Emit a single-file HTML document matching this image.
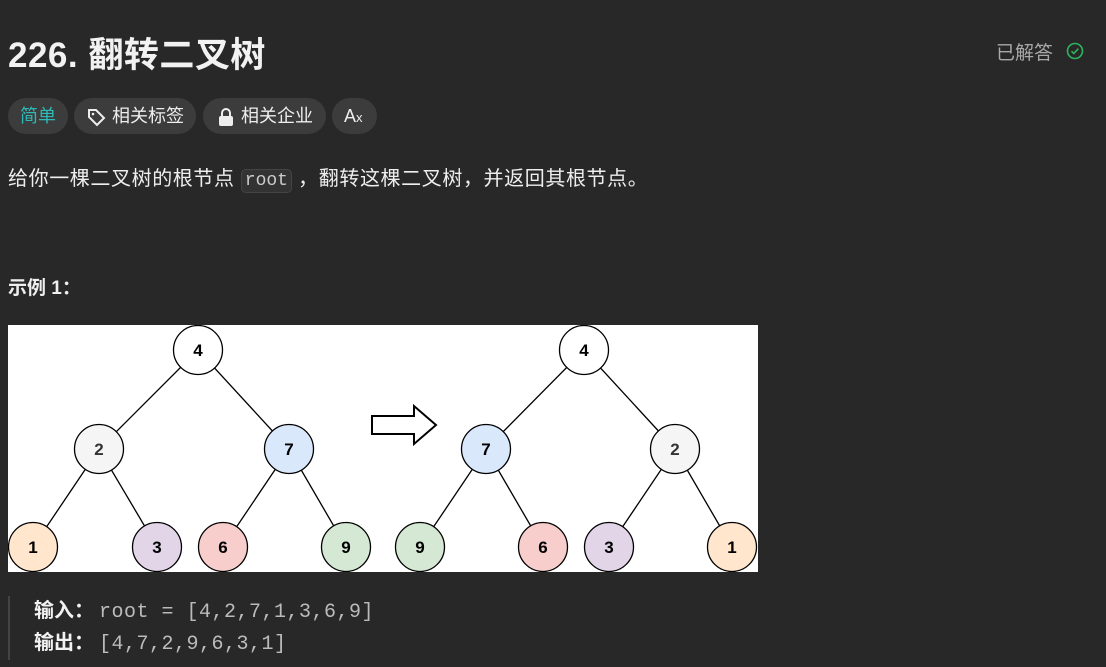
<!DOCTYPE html>
<html><head><meta charset="utf-8"><style>
body{margin:0;width:1106px;height:667px;background:#282828;font-family:"Liberation Sans","Noto Sans CJK SC",sans-serif;color:#eee;overflow:hidden;position:relative}
.a{position:absolute}
.tag{position:absolute;top:98px;height:36px;border-radius:18px;background:#3c3c3c;font-size:18px;line-height:36px;color:#eee;box-sizing:border-box;padding:0 12px}
.mono{font-family:"Liberation Mono",monospace}
</style></head><body>
<div class="a" style="left:8px;top:27px;font-size:35px;font-weight:bold;color:#f2f2f2;letter-spacing:0.5px">226. 翻转二叉树</div>
<div class="a" style="left:996px;top:38px;font-size:19px;color:#a8a8a8">已解答</div>
<svg class="a" style="left:1066px;top:42px" width="18" height="18" viewBox="0 0 18 18"><circle cx="9" cy="9" r="7.5" fill="none" stroke="#2db55d" stroke-width="1.6"/><path d="M5.5 9.2l2.3 2.3 4.5-4.8" fill="none" stroke="#2db55d" stroke-width="1.6"/></svg>
<div class="tag" style="left:8px;width:60px;color:#2cbbb8">简单</div>
<div class="tag" style="left:74px;width:122px;padding-left:38px">相关标签<svg class="a" style="left:12px;top:9px" width="20" height="20" viewBox="0 0 20 20"><path d="M3 3h7l8 8-7 7-8-8z" fill="none" stroke="#eee" stroke-width="2"/><circle cx="7" cy="7" r="1.3" fill="#eee"/></svg></div>
<div class="tag" style="left:203px;width:123px;padding-left:38px">相关企业<svg class="a" style="left:14px;top:9px" width="18" height="20" viewBox="0 0 18 20"><path d="M5 9V6a4 4 0 018 0v3" fill="none" stroke="#eee" stroke-width="2"/><rect x="2" y="9" width="14" height="10" rx="2" fill="#eee"/></svg></div>
<div class="tag" style="left:332px;width:45px;padding-left:12px;font-size:18px">A<span style="font-size:13px">x</span></div>
<div class="a" style="left:8px;top:162px;font-size:20px;letter-spacing:0.6px;color:#eee;white-space:nowrap">给你一棵二叉树的根节点 <span class="mono" style="background:#333;border:1px solid #444;border-radius:5px;padding:1px 3px;font-size:18px;letter-spacing:0;color:#ccc">root</span> ，翻转这棵二叉树，并返回其根节点。</div>
<div class="a" style="left:8px;top:273px;font-size:19px;font-weight:bold">示例 1：</div>
<svg class="a" style="left:8px;top:325px" width="750" height="247" viewBox="8 325 750 247">
<rect x="8" y="325" width="750" height="247" fill="#fff"/>
<g stroke="#000" stroke-width="1.3">
<line x1="198" y1="350" x2="99" y2="449"/><line x1="198" y1="350" x2="289" y2="449"/>
<line x1="99" y1="449" x2="33" y2="547"/><line x1="99" y1="449" x2="157" y2="547"/>
<line x1="289" y1="449" x2="223" y2="547"/><line x1="289" y1="449" x2="346" y2="547"/>
<line x1="584" y1="350" x2="486" y2="449"/><line x1="584" y1="350" x2="675" y2="449"/>
<line x1="486" y1="449" x2="420" y2="547"/><line x1="486" y1="449" x2="543" y2="547"/>
<line x1="675" y1="449" x2="609" y2="547"/><line x1="675" y1="449" x2="732" y2="547"/>
</g>
<g stroke="#000" stroke-width="1.3" font-family="Liberation Sans" font-weight="bold" font-size="17" text-anchor="middle">
<circle cx="198" cy="350" r="24.5" fill="#fff"/><circle cx="99" cy="449" r="24.5" fill="#f5f5f5"/><circle cx="289" cy="449" r="24.5" fill="#dae8fc"/>
<circle cx="33" cy="547" r="24.5" fill="#ffe6cc"/><circle cx="157" cy="547" r="24.5" fill="#e1d5e7"/><circle cx="223" cy="547" r="24.5" fill="#f8cecc"/><circle cx="346" cy="547" r="24.5" fill="#d5e8d4"/>
<circle cx="584" cy="350" r="24.5" fill="#fff"/><circle cx="486" cy="449" r="24.5" fill="#dae8fc"/><circle cx="675" cy="449" r="24.5" fill="#f5f5f5"/>
<circle cx="420" cy="547" r="24.5" fill="#d5e8d4"/><circle cx="543" cy="547" r="24.5" fill="#f8cecc"/><circle cx="609" cy="547" r="24.5" fill="#e1d5e7"/><circle cx="732" cy="547" r="24.5" fill="#ffe6cc"/>
<g stroke="none" fill="#000">
<text x="198" y="356">4</text><text x="99" y="455" fill="#333">2</text><text x="289" y="455">7</text>
<text x="33" y="553">1</text><text x="157" y="553">3</text><text x="223" y="553">6</text><text x="346" y="553">9</text>
<text x="584" y="356">4</text><text x="486" y="455">7</text><text x="675" y="455" fill="#333">2</text>
<text x="420" y="553">9</text><text x="543" y="553">6</text><text x="609" y="553">3</text><text x="732" y="553">1</text>
</g>
<path d="M372 416h42v-10l22 19-22 19v-10h-42z" fill="#fff" stroke-width="2"/>
</g>
</svg>
<div class="a" style="left:8px;top:596px;width:2px;height:64px;background:#444"></div>
<div class="a" style="left:34px;top:596px;font-size:20px;line-height:30px;color:#bbb;white-space:nowrap">
<div><b style="color:#f2f2f2;display:inline-block;width:65px">输入：</b><span class="mono" style="letter-spacing:0.5px">root = [4,2,7,1,3,6,9]</span></div>
<div><b style="color:#f2f2f2;display:inline-block;width:65px">输出：</b><span class="mono" style="letter-spacing:0.5px">[4,7,2,9,6,3,1]</span></div>
</div>
</body></html>
